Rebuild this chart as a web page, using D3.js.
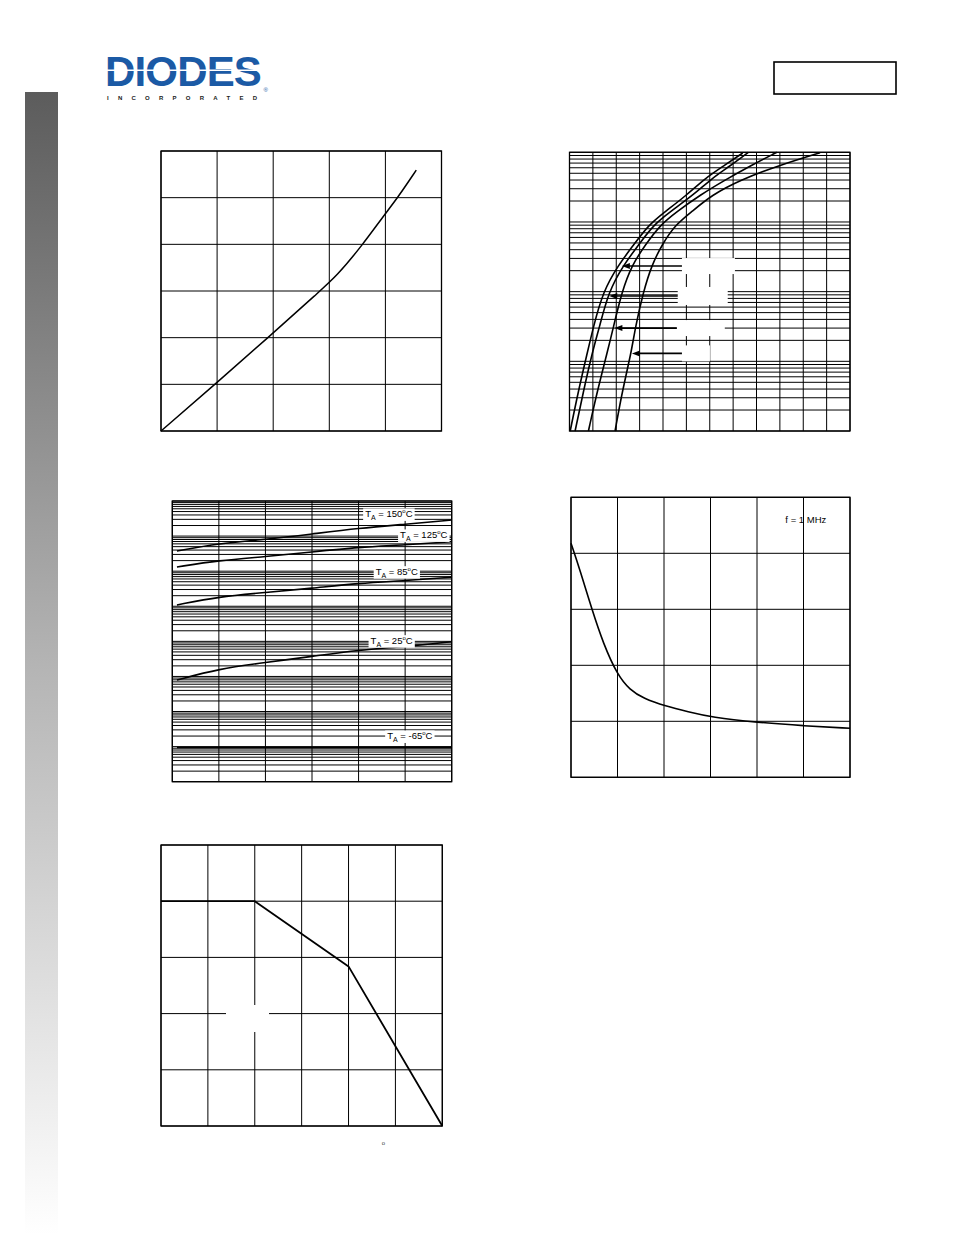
<!DOCTYPE html>
<html><head><meta charset="utf-8">
<script src="https://cdn.jsdelivr.net/npm/d3@7"></script>
<style>body{margin:0;background:#fff}svg{display:block}</style>
</head><body>
<svg id="c" width="954" height="1235"></svg>
<script>
// ---------- DATA ----------
// Chart 1 (linear / linear)
const c1X = [0, 0.192, 0.382, 0.566, 0.625, 0.72, 0.791, 0.844, 0.91];
const c1Y = [0, 50, 100, 150, 165.5, 200, 229.5, 250, 279.5];
// Chart 2 (forward characteristics, log y) - four curves
const c2V1 = [0.003,0.037,0.076,0.101,0.143,0.209,0.274,0.338,0.409,0.502,0.580,0.666,0.741];
const c2I1 = [0.1,0.363,1.32,3.01,9.98,24.1,46.7,90.6,140.6,243.8,423.6,657.7,977];
const c2V2 = [0.024,0.059,0.097,0.127,0.167,0.231,0.295,0.359,0.431,0.530,0.609,0.687,0.765];
const c2I2 = [0.1,0.363,1.32,3.01,9.98,24.1,46.7,90.6,140.6,243.8,423.6,636.5,1000];
const c2V3 = [0.081,0.118,0.161,0.187,0.224,0.267,0.324,0.388,0.459,0.559,0.666,0.773,0.887];
const c2I3 = [0.1,0.363,1.32,3.01,9.98,24.1,46.7,90.6,140.6,243.8,400.8,636.5,1000];
const c2V4 = [0.195,0.225,0.264,0.281,0.316,0.352,0.395,0.452,0.523,0.609,0.730,0.901,1.072];
const c2I4 = [0.1,0.363,1.32,3.01,9.98,24.1,46.7,90.6,140.6,243.8,400.8,657.7,988];
// arrows on chart 2: level (I), tip (V), tail (V)
const c2ArrowI    = [23.3, 8.67, 3.0, 1.30];
const c2ArrowTip  = [0.224, 0.170, 0.192, 0.267];
const c2ArrowTail = [0.481, 0.463, 0.459, 0.481];
// Chart 3 (reverse current vs voltage, log y)
const c3X    = [1, 10, 20, 30, 40, 50, 60];
const c3T150 = [3770, 6170, 8020, 11500, 16700, 21800, 28800];
const c3T125 = [1320, 2020, 2590, 3530, 4810, 5600, 6950];
const c3T85  = [109, 188, 247, 326, 453, 537, 671];
const c3T25  = [0.79, 1.65, 2.5, 3.71, 5.68, 7.05, 9.79];
const c3Tm65 = [0.0094, 0.0094, 0.0094, 0.0094, 0.0094, 0.0095, 0.0095];
const c3Temps  = ["150", "125", "85", "25", "-65"];
const c3LabelX = [46.5, 54.0, 48.2, 47.1, 51.0];
const c3LabelY = [42850, 10790, 968, 10.45, 0.0201];
// Chart 4 (capacitance vs voltage)
const c4X = [0,0.97,2.26,3.47,4.98,6.34,7.77,10.18,12.58,15.13,20.03,24.98,30];
const c4Y = [4.18,3.70,2.99,2.39,1.83,1.56,1.41,1.27,1.17,1.07,0.98,0.92,0.875];
const c4Label = "f = 1 MHz";
// Chart 5 (power derating)
const c5X = [0, 50, 100, 150];
const c5Y = [200, 200, 142, 0];

// ---------- HELPERS ----------
const svg = d3.select("#c");
const FONT = "'Liberation Sans', Arial, Helvetica, sans-serif";

function logTicks(lo, hi) {
  const t = [];
  for (let e = Math.round(Math.log10(lo)); e < Math.round(Math.log10(hi)); e++)
    for (let m = 1; m <= 9; m++) t.push(m * Math.pow(10, e));
  t.push(hi);
  return t;
}

function frame(box, x, y, xt, yt) {
  const g = svg.append("g");
  const gh = g.append("g"), gv = g.append("g");
  gh.selectAll("line").data(yt).join("line")
    .attr("x1", box.l).attr("x2", box.l + box.w)
    .attr("y1", d => y(d)).attr("y2", d => y(d))
    .attr("stroke", "#000").attr("stroke-width", 1);
  gv.selectAll("line").data(xt).join("line")
    .attr("y1", box.t).attr("y2", box.t + box.h)
    .attr("x1", d => x(d)).attr("x2", d => x(d))
    .attr("stroke", "#000").attr("stroke-width", 1);
  g.append("rect").attr("x", box.l).attr("y", box.t).attr("width", box.w).attr("height", box.h)
    .attr("fill", "none").attr("stroke", "#000").attr("stroke-width", 1.3);
  return {g, gh, gv};
}

function curve(xs, ys, x, y, w = 1.6, kind = d3.curveCatmullRom.alpha(0.5)) {
  const pts = xs.map((v, i) => [v, ys[i]]);
  svg.append("path").attr("d", d3.line().x(d => x(d[0])).y(d => y(d[1])).curve(kind)(pts))
    .attr("fill", "none").attr("stroke", "#000").attr("stroke-width", w)
    .attr("stroke-linejoin", "round");
}

// ---------- SIDEBAR ----------
const defs = svg.append("defs");
const grad = defs.append("linearGradient").attr("id", "side").attr("x1", 0).attr("x2", 0).attr("y1", 0).attr("y2", 1);
grad.append("stop").attr("offset", "0%").attr("stop-color", "#5c5c5c");
grad.append("stop").attr("offset", "50%").attr("stop-color", "#b4b4b4");
grad.append("stop").attr("offset", "100%").attr("stop-color", "#ffffff");
svg.append("rect").attr("x", 25).attr("y", 92).attr("width", 33).attr("height", 1143).attr("fill", "url(#side)");

// ---------- HEADER (logo) ----------
const logo = svg.append("text").attr("font-family", FONT).attr("font-weight", "bold");
const dio = logo.append("tspan").attr("x", 105).attr("y", 85.5).attr("font-size", 42)
  .attr("fill", "#1b5aa5").text("DIODES");
{
  const natural = dio.node().getComputedTextLength();
  dio.attr("letter-spacing", (156 - natural) / 6);
}
const inc = logo.append("tspan").attr("x", 107).attr("y", 100).attr("font-size", 6)
  .attr("fill", "#222").text("INCORPORATED");
{
  const natural = inc.node().getComputedTextLength();
  inc.attr("letter-spacing", (150 - natural) / 11);
}
logo.append("tspan").attr("x", 263.5).attr("y", 91.5).attr("font-size", 6).attr("font-weight", "normal")
  .attr("fill", "#1b5aa5").text("®");
svg.append("rect").attr("x", 105).attr("y", 69.5).attr("width", 157).attr("height", 1.5).attr("fill", "#fff");
svg.append("rect").attr("x", 774).attr("y", 62).attr("width", 122).attr("height", 32)
  .attr("fill", "none").attr("stroke", "#000").attr("stroke-width", 1.6);

// ---------- CHART 1 ----------
{
  const box = {l: 161, t: 151, w: 280.5, h: 280};
  const x = d3.scaleLinear().domain([0, 1.0]).range([box.l, box.l + box.w]);
  const y = d3.scaleLinear().domain([0, 300]).range([box.t + box.h, box.t]);
  frame(box, x, y, d3.range(0, 1.01, 0.2), d3.range(0, 301, 50));
  curve(c1X, c1Y, x, y, 1.5, d3.curveBasis);
}

// ---------- CHART 2 ----------
{
  const box = {l: 569.5, t: 152.3, w: 280.5, h: 278.7};
  const x = d3.scaleLinear().domain([0, 1.2]).range([box.l, box.l + box.w]);
  const y = d3.scaleLog().domain([0.1, 1000]).range([box.t + box.h, box.t]);
  frame(box, x, y, d3.range(0, 1.201, 0.1), logTicks(0.1, 1000));
  const bw = [53, 50, 48, 28];
  const bh = [16, 18, 16, 16];
  c2ArrowI.forEach((v, i) => {
    svg.append("rect").attr("x", x(c2ArrowTail[i])).attr("y", y(v) - bh[i] / 2)
      .attr("width", bw[i]).attr("height", bh[i]).attr("fill", "#fff");
  });
  curve(c2V1, c2I1, x, y, 1.6, d3.curveBasis);
  curve(c2V2, c2I2, x, y, 1.6, d3.curveBasis);
  curve(c2V3, c2I3, x, y, 1.6, d3.curveBasis);
  curve(c2V4, c2I4, x, y, 1.6, d3.curveBasis);
  c2ArrowI.forEach((v, i) => {
    const yy = y(v), xt = x(c2ArrowTip[i]), xe = x(c2ArrowTail[i]);
    svg.append("line").attr("x1", xe).attr("x2", xt + 6).attr("y1", yy).attr("y2", yy)
      .attr("stroke", "#000").attr("stroke-width", 1.6);
    svg.append("path").attr("d", `M${xt},${yy} L${xt + 8},${yy - 3} L${xt + 8},${yy + 3} Z`).attr("fill", "#000");
  });
}

// ---------- CHART 3 ----------
{
  const box = {l: 172.3, t: 501, w: 279.4, h: 280.7};
  const x = d3.scaleLinear().domain([0, 60]).range([box.l, box.l + box.w]);
  const y = d3.scaleLog().domain([0.001, 100000]).range([box.t + box.h, box.t]);
  const f = frame(box, x, y, d3.range(0, 61, 10), logTicks(0.001, 100000));
  [c3T150, c3T125, c3T85, c3T25, c3Tm65].forEach(s => curve(c3X, s, x, y, 1.6, d3.curveBasis));
  c3Temps.forEach((t, i) => {
    const lg = svg.append("g");
    const bg = lg.append("rect").attr("fill", "#fff");
    const tx = lg.append("text").attr("x", x(c3LabelX[i])).attr("y", y(c3LabelY[i]) + 3.5)
      .attr("text-anchor", "middle").attr("font-family", FONT).attr("font-size", 9.5).attr("fill", "#000");
    tx.append("tspan").text("T");
    tx.append("tspan").text("A").attr("font-size", 7).attr("dy", 2.5);
    tx.append("tspan").text(" = " + t).attr("dy", -2.5);
    tx.append("tspan").text("o").attr("font-size", 6).attr("dy", -4);
    tx.append("tspan").text("C").attr("dy", 4);
    const bb = tx.node().getBBox();
    bg.attr("x", bb.x - 2).attr("y", bb.y).attr("width", bb.width + 4).attr("height", bb.height);
  });
  f.gv.raise();
}

// ---------- CHART 4 ----------
{
  const box = {l: 571, t: 497.3, w: 279, h: 280};
  const x = d3.scaleLinear().domain([0, 30]).range([box.l, box.l + box.w]);
  const y = d3.scaleLinear().domain([0, 5]).range([box.t + box.h, box.t]);
  frame(box, x, y, d3.range(0, 31, 5), d3.range(0, 5.01, 1));
  curve(c4X, c4Y, x, y, 1.6, d3.curveBasis);
  svg.append("text").attr("x", x(25.25)).attr("y", y(4.607) + 3.5).attr("text-anchor", "middle")
    .attr("font-family", FONT).attr("font-size", 9.5).attr("fill", "#000").text(c4Label);
}

// ---------- CHART 5 ----------
{
  const box = {l: 161, t: 845, w: 281.3, h: 281};
  const x = d3.scaleLinear().domain([0, 150]).range([box.l, box.l + box.w]);
  const y = d3.scaleLinear().domain([0, 250]).range([box.t + box.h, box.t]);
  frame(box, x, y, d3.range(0, 151, 25), d3.range(0, 251, 50));
  svg.append("rect").attr("x", 226).attr("y", 1005).attr("width", 43).attr("height", 27).attr("fill", "#fff");
  curve(c5X, c5Y, x, y, 1.8, d3.curveLinear);
  svg.append("text").attr("x", 383.5).attr("y", 1145).attr("text-anchor", "middle")
    .attr("font-family", FONT).attr("font-size", 6).attr("fill", "#444").text("o");
}
</script>
</body></html>
